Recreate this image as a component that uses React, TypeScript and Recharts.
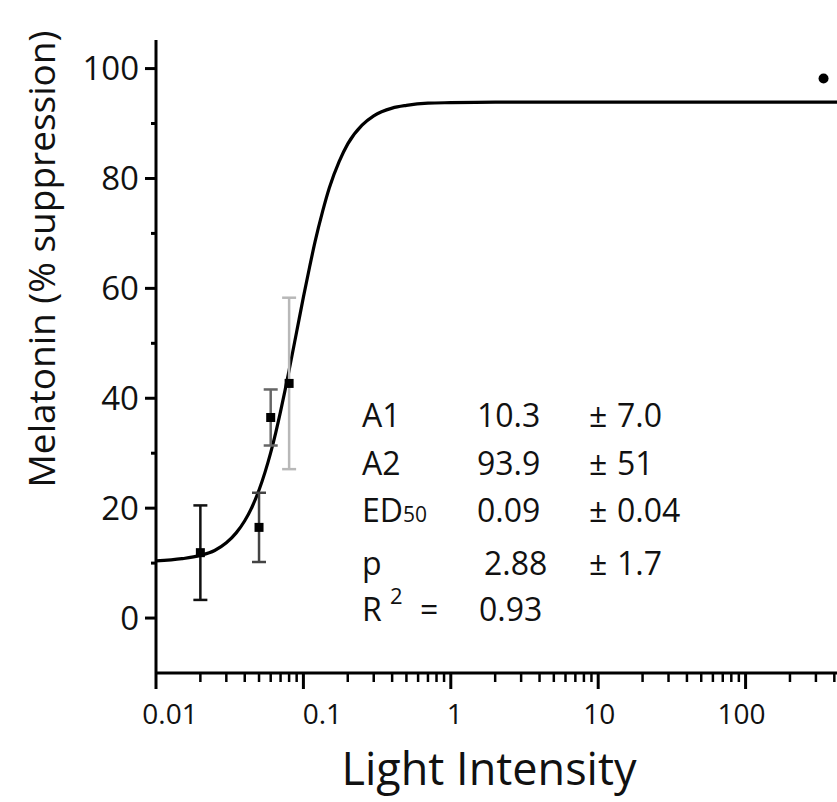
import React from 'react';
import { ComposedChart, Line, Scatter, XAxis, YAxis, ErrorBar } from 'recharts';

// Fitted sigmoid curve (light intensity, % suppression)
const curveX = [0.01, 0.015, 0.02, 0.025, 0.03, 0.035, 0.04, 0.045, 0.05, 0.055, 0.06, 0.065, 0.07, 0.075, 0.08, 0.09, 0.1, 0.11, 0.12, 0.135, 0.15, 0.175, 0.2, 0.25, 0.3, 0.4, 0.5, 0.7, 1, 2, 10, 100, 417];
const curveY = [10.4, 10.8, 11.4, 12.3, 13.7, 15.5, 17.7, 20.3, 23.3, 26.6, 30.1, 33.8, 37.6, 41.4, 45.1, 52.1, 58.4, 63.8, 68.5, 74.0, 78.3, 83.1, 86.3, 89.7, 91.4, 92.8, 93.3, 93.7, 93.8, 93.9, 93.9, 93.9, 93.9];

// Measured points with error bars
const pointX = [0.02, 0.05, 0.06, 0.08, 338];
const pointY = [11.9, 16.5, 36.5, 42.7, 98.2];
const pointErr = [8.6, 6.3, 5.1, 15.6, 0];

// Axis ticks
const xMajorTicks = [0.01, 0.1, 1, 10, 100];
const xMajorLabels = ['0.01', '0.1', '1', '10', '100'];
const xMinorTicks = [0.02, 0.03, 0.04, 0.05, 0.06, 0.07, 0.08, 0.09, 0.2, 0.3, 0.4, 0.5, 0.6, 0.7, 0.8, 0.9, 2, 3, 4, 5, 6, 7, 8, 9, 20, 30, 40, 50, 60, 70, 80, 90, 200, 300, 400];
const yMajorTicks = [0, 20, 40, 60, 80, 100];
const yMinorTicks = [10, 30, 50, 70, 90];

// Fit table
const fitNames = ['A1', 'A2', 'ED', 'p'];
const fitValues = ['10.3', '93.9', '0.09', '2.88'];
const fitErrors = ['7.0', '51', '0.04', '1.7'];
const rSquared = '0.93';

// Styles
const FONT = '"Open Sans", "Noto Sans", sans-serif';
const barColors = ['#111', '#444', '#666', '#b8b8b8', '#000'];
const xLabelNudge = [14, 19, 4, 1, -4];
const rowBaselines = [427, 475, 522, 575];

const curveData = curveX.map((x, i) => ({ x, y: curveY[i] }));

const XTick = (props: any) => {
  const { x, y, payload } = props;
  const v = payload.value;
  const mi = xMajorTicks.indexOf(v);
  const major = mi >= 0;
  return (
    <g>
      <line x1={x} x2={x} y1={y} y2={y + (major ? 16 : 9)} stroke="#000" strokeWidth={major ? 3 : 2.5} />
      {major && (
        <text x={x + xLabelNudge[mi]} y={y + 51} textAnchor="middle" fontSize={28} fontFamily={FONT} fill="#111">
          {xMajorLabels[mi]}
        </text>
      )}
    </g>
  );
};

const YTick = (props: any) => {
  const { x, y, payload } = props;
  const v = payload.value;
  const major = yMajorTicks.indexOf(v) >= 0;
  return (
    <g>
      <line x1={x - (major ? 11 : 5)} x2={x} y1={y} y2={y} stroke="#000" strokeWidth={3} />
      {major && (
        <text x={x - 17} y={y} dy="0.36em" textAnchor="end" fontSize={33} fontFamily={FONT} fill="#111">
          {v}
        </text>
      )}
    </g>
  );
};

const Square = (props: any) => {
  const { cx, cy } = props;
  return <rect x={cx - 4.5} y={cy - 4.5} width={9} height={9} fill="#000" />;
};

const Dot = (props: any) => {
  const { cx, cy } = props;
  return <circle cx={cx} cy={cy} r={5} fill="#000" />;
};

export default function App() {
  return (
    <div style={{ position: 'absolute', left: 0, top: 0, width: 837, height: 802, background: '#fff' }}>
      <ComposedChart width={837} height={802} data={curveData} margin={{ top: 40, right: 0, bottom: 0, left: 0 }}>
        <XAxis
          dataKey="x"
          type="number"
          scale="log"
          domain={[0.01, 417]}
          allowDataOverflow
          ticks={[...xMajorTicks, ...xMinorTicks]}
          interval={0}
          tickSize={0}
          tickMargin={0}
          tickLine={false}
          axisLine={{ stroke: '#000', strokeWidth: 3 }}
          tick={(p: any) => <XTick {...p} />}
          height={129}
        />
        <YAxis
          type="number"
          domain={[-10, 105.2]}
          allowDataOverflow
          ticks={[...yMajorTicks, ...yMinorTicks]}
          interval={0}
          tickSize={0}
          tickMargin={0}
          tickLine={false}
          axisLine={{ stroke: '#000', strokeWidth: 3 }}
          tick={(p: any) => <YTick {...p} />}
          width={156}
        />
        <Line dataKey="y" type="monotone" stroke="#000" strokeWidth={3.2} dot={false} isAnimationActive={false} />
        {pointX.map((px, i) => (
          <Scatter
            key={i}
            data={[{ x: px, y: pointY[i], err: pointErr[i] }]}
            dataKey="y"
            shape={i === 4 ? Dot : Square}
            isAnimationActive={false}
          >
            {pointErr[i] > 0 && (
              <ErrorBar dataKey="err" direction="y" width={7} stroke={barColors[i]} strokeWidth={2.5} isAnimationActive={false} />
            )}
          </Scatter>
        ))}
        <g fontFamily={FONT} fontSize={32} fill="#111">
          {fitNames.map((n, i) => (
            <g key={n}>
              <text x={362} y={rowBaselines[i]}>
                {n}
                {n === 'ED' && <tspan fontSize={21}>50</tspan>}
              </text>
              <text x={i === 3 ? 484 : 477} y={rowBaselines[i]}>{fitValues[i]}</text>
              <text x={589} y={rowBaselines[i]}>±</text>
              <text x={617} y={rowBaselines[i]}>{fitErrors[i]}</text>
            </g>
          ))}
          <text x={362} y={621}>R</text>
          <text x={390} y={604} fontSize={22}>2</text>
          <text x={420} y={621}>=</text>
          <text x={479} y={621}>{rSquared}</text>
        </g>
        <text x={489} y={785} textAnchor="middle" fontSize={45} fontFamily={FONT} fill="#111">
          Light Intensity
        </text>
        <text
          transform="translate(55, 259) rotate(-90)"
          textAnchor="middle"
          fontSize={37}
          fontFamily={FONT}
          fill="#111"
        >
          Melatonin (% suppression)
        </text>
      </ComposedChart>
    </div>
  );
}
